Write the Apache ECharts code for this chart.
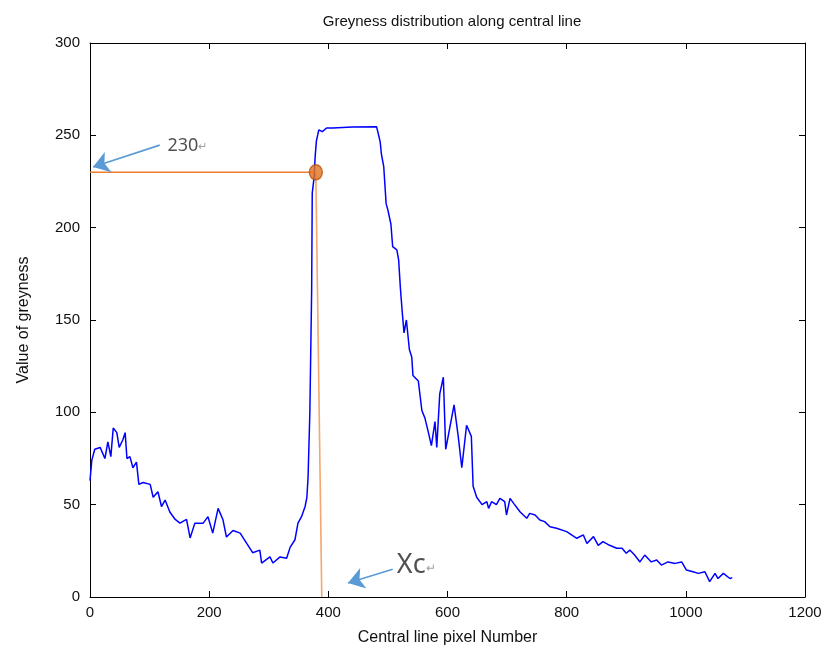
<!DOCTYPE html>
<html>
<head>
<meta charset="utf-8">
<script src="https://cdn.jsdelivr.net/npm/echarts@6/dist/echarts.min.js"></script>
<style>html,body{margin:0;padding:0;background:#fff}#c{width:830px;height:654px}</style>
</head>
<body>
<div id="c"></div>
<script>
// pixel index along central line
const pixelX = [0,3,8,17,25,30,35,39,45,49,55,59,62,67,72,78,82,89,101,106,114,120,126,134,143,151,162,168,176,190,198,206,215,223,229,240,252,263,273,285,288,302,307,319,330,336,344,349,355,361,364,366,369,372,373,376,378,380,384,390,397,408,440,481,483,487,489,493,497,500,505,508,515,518,521,524,527,531,536,540,542,551,557,562,568,573,579,582,587,593,597,604,611,618,624,632,640,643,649,652,658,666,669,674,682,688,696,699,705,711,722,733,738,747,755,763,772,783,800,817,828,834,845,853,861,872,884,893,900,906,914,923,931,942,951,959,970,982,993,1001,1012,1021,1032,1040,1049,1054,1063,1074,1078];
// greyness value
const greyness = [63,74,80,81,75,84,76,91.5,89,81,85,89,75,76,70,73,61,62,61,54,57,49,52.5,46,42,40,42,32,40,40,43.5,34.6,48,42,32.5,36,34.6,29,24,25.4,18.4,21.7,18.4,21.7,21,27,31,40,43.5,49,54,65,100,166,218.7,227,239,247,253,252,254,254,254.5,254.6,252,246.5,240,233,213,209.5,202,189.7,188,182.5,167,154.5,143,150,134,130,120,117,101,97,89,82,95,81,110,119,80,92,104,87,70,93,87,60,54,53.4,50,51.6,48,51.6,50,53.4,51.6,44.4,53.4,50.7,46,42.6,45.3,44.4,41.7,40.8,38,37.2,35.4,31.8,33.6,29,32.7,28,30,28,26.4,26.4,23.7,25.4,22.7,19,22.7,19,20,17.3,19,18.2,19,14.6,13.7,12.8,13.7,8.3,12.8,10,12.8,10,10.5];
const xTicks = [0,200,400,600,800,1000,1200];
const yTicks = [0,50,100,150,200,250,300];
// annotation (data units)
const level = 230;
const xcPoint = [379, 230];
const xcFoot = [389, 0];
const arrow230 = [[117, 244.7], [5, 232.8]];
const arrowXc = [[508, 15], [433, 7.6]];
const label230Pos = [130, 244.5];
const labelXcPos = [515, 17];

const font = '"Liberation Sans", Arial, sans-serif';
const chart = echarts.init(document.getElementById('c'));
const ptsLine = pixelX.map((x, i) => [x, greyness[i]]);

const axisCommon = {
  type: 'value', min: 0,
  axisLine: {show: true, onZero: false, lineStyle: {color: '#000', width: 1}},
  axisTick: {show: true, inside: true, length: 6, lineStyle: {color: '#000'}},
  splitLine: {show: false}
};

chart.setOption({
  animation: false,
  backgroundColor: '#fff',
  title: {
    text: 'Greyness distribution along central line',
    left: 447, top: 9, textAlign: 'center',
    textStyle: {fontFamily: font, fontSize: 15, fontWeight: 'normal', color: '#111'}
  },
  grid: {left: 90, right: 25, top: 43, bottom: 57},
  xAxis: [
    Object.assign({}, axisCommon, {
      max: 1200, interval: 200, position: 'bottom',
      name: 'Central line pixel Number', nameLocation: 'middle', nameGap: 33,
      nameTextStyle: {fontFamily: font, fontSize: 16, color: '#111'},
      axisLabel: {fontFamily: font, fontSize: 15, color: '#111', margin: 8,
        formatter: v => String(xTicks.includes(v) ? v : v)}
    }),
    Object.assign({}, axisCommon, {
      max: 1200, interval: 200, position: 'top',
      axisLabel: {show: false}
    })
  ],
  yAxis: [
    Object.assign({}, axisCommon, {
      max: 300, interval: 50, position: 'left',
      name: 'Value of greyness', nameLocation: 'middle', nameGap: 58, nameRotate: 90,
      nameTextStyle: {fontFamily: font, fontSize: 16, color: '#111'},
      axisLabel: {fontFamily: font, fontSize: 15, color: '#111', margin: 10,
        formatter: v => String(yTicks.includes(v) ? v : v)}
    }),
    Object.assign({}, axisCommon, {
      max: 300, interval: 50, position: 'right',
      axisLabel: {show: false}
    })
  ],
  series: [
    {
      type: 'line', data: ptsLine, showSymbol: false, symbol: 'none',
      lineStyle: {color: '#0000ff', width: 1.5}, z: 3
    },
    {
      type: 'line', data: [[0, level], xcPoint], showSymbol: false, symbol: 'none',
      lineStyle: {color: '#ed7d31', width: 1.4}, z: 4
    },
    {
      type: 'line', data: [xcPoint, xcFoot], showSymbol: false, symbol: 'none',
      lineStyle: {color: '#f4a66e', width: 1.6}, z: 4
    },
    {
      type: 'scatter', data: [xcPoint], symbol: 'circle', symbolSize: [13, 15],
      itemStyle: {color: '#e3731f', borderColor: '#b4540e', borderWidth: 1.5}, z: 6
    },
    {
      type: 'scatter', data: [], z: 5,
      markLine: {
        silent: true, symbol: ['none', 'triangle'], symbolSize: [0, 13],
        lineStyle: {color: '#5b9bd5', width: 1.6, type: 'solid'},
        label: {show: false},
        data: [
          [{coord: arrow230[0], symbol: 'none'}, {coord: arrow230[1], symbol: 'arrow', symbolSize: 16}],
          [{coord: arrowXc[0], symbol: 'none'}, {coord: arrowXc[1], symbol: 'arrow', symbolSize: 16}]
        ]
      }
    },
    {
      type: 'scatter', symbolSize: 0, z: 7,
      data: [
        {value: label230Pos, label: {show: true, position: 'right', distance: 0,
          formatter: '{a|230}{b|↵}',
          rich: {a: {fontFamily: '"Noto Sans", "DejaVu Sans", sans-serif', fontSize: 18, color: '#262626'},
                 b: {fontSize: 11, color: '#888', padding: [2, 0, 0, 0]}}}},
        {value: labelXcPos, label: {show: true, position: 'right', distance: 0,
          formatter: '{a|Xc}{b|↵}',
          rich: {a: {fontFamily: '"Noto Sans", "DejaVu Sans", sans-serif', fontSize: 27, color: '#262626'},
                 b: {fontSize: 12, color: '#888', padding: [6, 0, 0, 0]}}}}
      ]
    }
  ]
});
</script>
</body>
</html>
